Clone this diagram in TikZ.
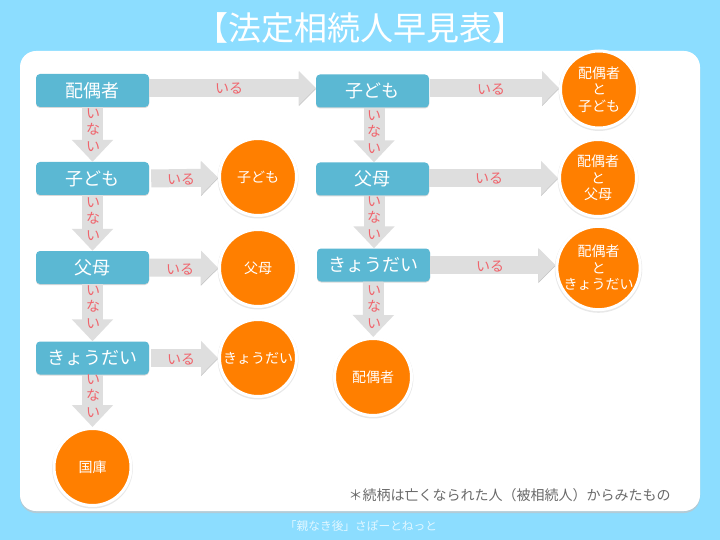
\documentclass[tikz,border=0pt]{standalone}
\usepackage{fontspec}
\setmainfont{Noto Sans CJK JP}
\usepackage{xcolor}
\usetikzlibrary{arrows.meta,shadows}
\definecolor{sky}{HTML}{8CDDFF}
\definecolor{boxblue}{HTML}{5BB8D3}
\definecolor{ansorange}{HTML}{FF7F00}
\definecolor{arrowgray}{HTML}{DEDEDE}
\definecolor{arrowedge}{HTML}{C4C4C4}
\definecolor{labelred}{HTML}{F0646C}
\definecolor{notegray}{HTML}{6A6A6A}

\begin{document}
\begin{tikzpicture}
    [x=1pt,y=-1pt,
     person/.style={rectangle,rounded corners=4pt,fill=boxblue,text=white,minimum width=113pt,minimum height=33pt,inner sep=0pt,font=\fontsize{18}{20}\selectfont,drop shadow={shadow xshift=0pt,shadow yshift=-1pt,opacity=0.3}},
     heir/.style={circle,fill=ansorange,draw=white,line width=3pt,text=white,minimum size=77pt,inner sep=0pt,align=center,font=\fontsize{14}{16.5}\selectfont,drop shadow={shadow xshift=0pt,shadow yshift=-1pt,shadow scale=1.05,opacity=0.18}},
     yes/.style={arrowgray,line width=18pt,-{Triangle[length=17pt,width=33pt]},preaction={draw=arrowedge,transform canvas={yshift=-1pt}}},
     no/.style={arrowgray,line width=21pt,-{Triangle[length=22pt,width=40pt]}},
     yeslabel/.style={text=labelred,inner sep=0pt,font=\fontsize{14}{16}\selectfont},
     nolabel/.style={text=labelred,inner sep=0pt,align=center,font=\fontsize{14}{16.5}\selectfont}]
    \fill[sky] (0,0) rectangle (720,540);
    \fill[arrowedge!70!sky,rounded corners=16pt] (20,53) rectangle (700,513);
    \fill[white,rounded corners=16pt] (20,51) rectangle (700,511);

    \node (title) at (360,28) [text=white,inner sep=0pt,font=\fontsize{33}{35}\selectfont] {【法定相続人早見表】};
    \node (note) at (509.5,495) [text=notegray,inner sep=0pt,font=\fontsize{14}{16}\selectfont] {＊続柄は亡くなられた人（被相続人）からみたもの};
    \node (footer) at (361,526) [text=white!75!sky,inner sep=0pt,font=\fontsize{11.7}{14}\selectfont] {「親なき後」さぽーとねっと};

    \node (L1) at (92.5,90.5) [person] {配偶者};
    \node (L2) at (92.5,178.5) [person] {子ども};
    \node (L3) at (92.5,267.5) [person] {父母};
    \node (L4) at (92.5,358) [person] {きょうだい};

    \node (R1) at (372.5,91) [person] {子ども};
    \node (R2) at (372.5,179) [person] {父母};
    \node (R3) at (373.5,265) [person] {きょうだい};

    \node (H1) at (258,177) [heir] {子ども};
    \node (H2) at (258,268) [heir] {父母};
    \node (H3) at (258,358) [heir] {きょうだい};
    \node (H4) at (92.5,467) [heir] {国庫};

    \node (S1) at (599,89.5) [heir] {配偶者\\と\\子ども};
    \node (S2) at (598,178) [heir] {配偶者\\と\\父母};
    \node (S3) at (598.5,268) [heir] {配偶者\\と\\きょうだい};
    \node (S4) at (373,377) [heir] {配偶者};

    \draw[yes] ([yshift=2.5pt]L1.east) -- ([yshift=3pt]R1.west);
    \draw[yes] ([xshift=2pt]L2.east) -- (H1);
    \draw[yes] (L3.east) -- (H2);
    \draw[yes] ([xshift=2pt]L4.east) -- (H3);

    \draw[yes] ([yshift=3pt,xshift=1pt]R1.east) -- ([yshift=1.5pt]S1.west);
    \draw[yes] ([yshift=1pt]R2.east) -- (S2.west);
    \draw[yes] (R3.east) -- ([yshift=3pt]S3.west);

    \draw[no] (L1) -- (L2);
    \draw[no] (L2) -- (L3);
    \draw[no] (L3) -- (L4);
    \draw[no] (L4) -- (H4);

    \draw[no] ([xshift=1.5pt]R1.south) -- ([xshift=1.5pt]R2.north);
    \draw[no] ([xshift=1.5pt]R2.south) -- ([xshift=0.5pt]R3.north);
    \draw[no] (R3.south) -- (S4);

    \node (yes1) at (229,89) [yeslabel] {いる};
    \node (yes2) at (181,180) [yeslabel] {いる};
    \node (yes3) at (180,270) [yeslabel] {いる};
    \node (yes4) at (181,360) [yeslabel] {いる};
    \node (yes5) at (491,90) [yeslabel] {いる};
    \node (yes6) at (489,179) [yeslabel] {いる};
    \node (yes7) at (490,267) [yeslabel] {いる};

    \node (no1) at (93,130) [nolabel] {い\\な\\い};
    \node (no2) at (93,219) [nolabel] {い\\な\\い};
    \node (no3) at (93,307) [nolabel] {い\\な\\い};
    \node (no4) at (93,396) [nolabel] {い\\な\\い};
    \node (no5) at (374,132) [nolabel] {い\\な\\い};
    \node (no6) at (374,218) [nolabel] {い\\な\\い};
    \node (no7) at (374,307) [nolabel] {い\\な\\い};
\end{tikzpicture}
\end{document}
